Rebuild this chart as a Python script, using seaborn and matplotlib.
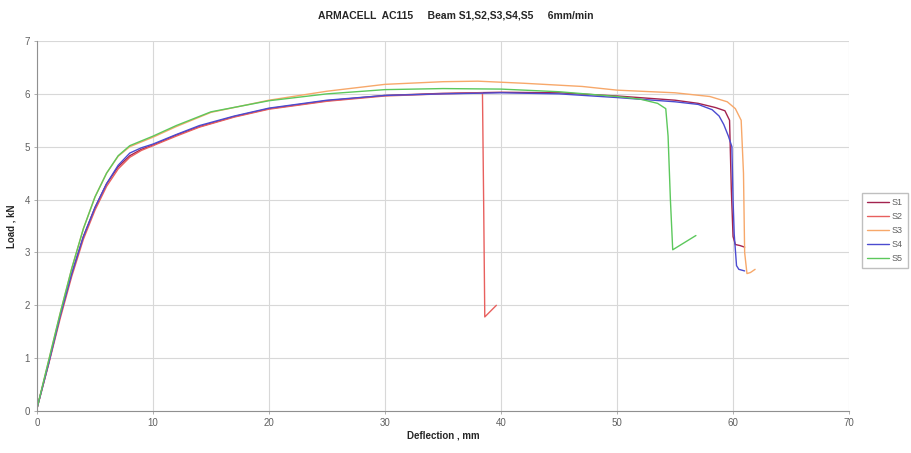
import matplotlib
matplotlib.use("Agg")
import matplotlib.pyplot as plt
import seaborn as sns
import pandas as pd

# deflection (mm) / load (kN)
s1_x = [0, 1, 2, 3, 4, 5, 6, 7, 8, 9, 10, 12, 14, 17, 20, 25, 30, 35, 40, 45, 50, 55,
        57, 58.5, 59.3, 59.7, 59.85, 60.0, 60.2, 60.6, 61.0]
s1_y = [0.05, 0.9, 1.8, 2.6, 3.3, 3.85, 4.3, 4.62, 4.83, 4.95, 5.03, 5.22, 5.38, 5.57,
        5.72, 5.87, 5.97, 6.01, 6.03, 6.02, 5.96, 5.88, 5.82, 5.74, 5.68, 5.5, 4.2,
        3.3, 3.15, 3.13, 3.1]

s2_x = [0, 1, 2, 3, 4, 5, 6, 7, 8, 9, 10, 12, 14, 17, 20, 25, 30, 35, 38.4, 38.5,
        38.6, 39.6]
s2_y = [0.05, 0.88, 1.75, 2.55, 3.25, 3.8, 4.25, 4.58, 4.8, 4.93, 5.02, 5.2, 5.37,
        5.56, 5.71, 5.86, 5.96, 6.0, 6.02, 4.0, 1.78, 2.0]

s3_x = [0, 1, 2, 3, 4, 5, 6, 7, 8, 10, 12, 15, 20, 25, 30, 35, 38, 42, 47, 50, 55,
        58, 59.5, 60.2, 60.7, 60.9, 61.0, 61.2, 61.5, 61.9]
s3_y = [0.05, 0.95, 1.85, 2.7, 3.45, 4.05, 4.5, 4.82, 5.0, 5.18, 5.38, 5.65, 5.88,
        6.05, 6.18, 6.23, 6.24, 6.2, 6.14, 6.07, 6.02, 5.95, 5.85, 5.72, 5.5, 4.5,
        3.0, 2.6, 2.62, 2.68]

s4_x = [0, 1, 2, 3, 4, 5, 6, 7, 8, 9, 10, 12, 14, 17, 20, 25, 30, 35, 40, 45, 50,
        55, 57, 58.2, 58.8, 59.2, 59.6, 59.9, 60.0, 60.1, 60.3, 60.5, 61.0]
s4_y = [0.05, 0.9, 1.8, 2.6, 3.3, 3.85, 4.3, 4.65, 4.88, 4.98, 5.05, 5.23, 5.4,
        5.58, 5.73, 5.88, 5.97, 6.0, 6.02, 6.0, 5.93, 5.85, 5.8, 5.7, 5.58, 5.42,
        5.2, 5.0, 4.0, 3.35, 2.75, 2.68, 2.65]

s5_x = [0, 1, 2, 3, 4, 5, 6, 7, 8, 10, 12, 15, 20, 25, 30, 35, 40, 45, 50, 52, 53.5,
        54.2, 54.4, 54.6, 54.8, 56.8]
s5_y = [0.05, 0.95, 1.85, 2.7, 3.45, 4.05, 4.5, 4.83, 5.02, 5.2, 5.4, 5.66, 5.87,
        6.0, 6.08, 6.1, 6.09, 6.04, 5.95, 5.9, 5.82, 5.72, 5.2, 4.0, 3.05, 3.32]

series = ["S1", "S2", "S3", "S4", "S5"]
colors = ["#a3234f", "#e8605e", "#f7a86a", "#4b4bd0", "#5cc85c"]

frames = []
for name, xs, ys in zip(series, [s1_x, s2_x, s3_x, s4_x, s5_x],
                        [s1_y, s2_y, s3_y, s4_y, s5_y]):
    frames.append(pd.DataFrame({"deflection": xs, "load": ys, "beam": name}))
df = pd.concat(frames, ignore_index=True)

sns.set_style("whitegrid")
plt.rcParams["font.family"] = ["Liberation Sans", "DejaVu Sans"]

fig = plt.figure(figsize=(9.11, 4.53), dpi=100)
ax = fig.add_axes([0.0406, 0.0927, 0.8914, 0.8168])

sns.lineplot(
    data=df,
    x="deflection",
    y="load",
    hue="beam",
    palette=dict(zip(series, colors)),
    sort=False,
    estimator=None,
    linewidth=1.0,
    ax=ax
)

ax.set_xlim(0, 70)
ax.set_ylim(0, 7)
ax.set_xticks(range(0, 71, 10))
ax.set_yticks(range(0, 8))
ax.grid(True, color="#d8d8d8", linewidth=0.8)
for side in ["top", "right"]:
    ax.spines[side].set_visible(False)
for side in ["left", "bottom"]:
    ax.spines[side].set_color("#909090")
    ax.spines[side].set_linewidth(0.8)
ax.tick_params(axis="both", labelsize=7, colors="#909090", labelcolor="#606060",
               length=2, width=0.5, direction="out", left=True, bottom=True, pad=3)

ax.set_xlabel("Deflection , mm", fontsize=7, fontweight="bold", labelpad=2)
ax.set_ylabel("Load , kN", fontsize=7, fontweight="bold", labelpad=6)
fig.text(0.5, 0.965,
         "ARMACELL  AC115     Beam S1,S2,S3,S4,S5     6mm/min",
         ha="center", va="center", fontsize=7.5, fontweight="bold")

handles, labels = ax.get_legend_handles_labels()
leg = ax.legend(handles, labels, loc="center left", bbox_to_anchor=(1.011, 0.488),
                fontsize=6.5, frameon=True, fancybox=False, edgecolor="#b0b0b0",
                handlelength=2.4, labelspacing=0.55, borderpad=0.55,
                handletextpad=0.3, title=None)
for t in leg.get_texts():
    t.set_color("#606060")

fig.savefig("out.png", dpi=100, facecolor="white")
plt.close(fig)
